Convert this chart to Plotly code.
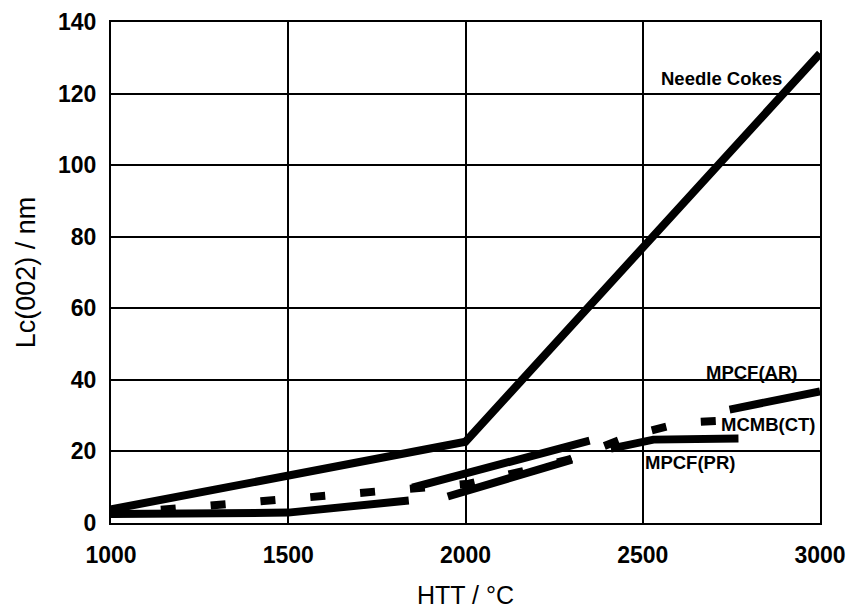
import plotly.graph_objects as go

# Data (HTT in deg C, Lc(002) in nm)
needle_x = [1000, 2000, 3000]
needle_y = [3.8, 22.7, 131.2]

mpcf_ar_x = [1850, 2350, None, 2745, 3000]
mpcf_ar_y = [9.9, 23.0, None, 31.7, 36.8]

mcmb_ct_x = [1000, 1160, 1300, 1440, 1580, 1740, 1870, 2010, 2150, 2290, 2470, 2610, 2710]
mcmb_ct_y = [2.5, 3.8, 5.0, 6.0, 7.2, 8.5, 10.0, 11.0, 14.2, 17.7, 24.5, 28.0, 28.5]

mpcf_pr_x = [1000, 1500, 1840, None, 1950, 2300, None, 2410, 2530, 2770]
mpcf_pr_y = [2.5, 2.9, 6.3, None, 7.4, 17.7, None, 20.8, 23.3, 23.6]

x_ticks = [1000, 1500, 2000, 2500, 3000]
y_ticks = [0, 20, 40, 60, 80, 100, 120, 140]

labels = ["Needle Cokes", "MPCF(AR)", "MCMB(CT)", "MPCF(PR)"]
label_x = [2723, 2808, 2856, 2633]
label_y = [124.3, 42.0, 27.5, 16.9]

FONT = "Liberation Sans, Arial, Helvetica, sans-serif"

fig = go.Figure()
fig.add_trace(go.Scatter(x=needle_x, y=needle_y, mode="lines", name="Needle Cokes",
                         line=dict(color="black", width=8)))
fig.add_trace(go.Scatter(x=mpcf_ar_x, y=mpcf_ar_y, mode="lines", name="MPCF(AR)",
                         line=dict(color="black", width=8), connectgaps=False))
fig.add_trace(go.Scatter(x=mcmb_ct_x, y=mcmb_ct_y, mode="lines", name="MCMB(CT)",
                         line=dict(color="black", width=8, dash="15px,35px")))
fig.add_trace(go.Scatter(x=mpcf_pr_x, y=mpcf_pr_y, mode="lines", name="MPCF(PR)",
                         line=dict(color="black", width=8), connectgaps=False))

for t, xv, yv in zip(labels, label_x, label_y):
    fig.add_annotation(x=xv, y=yv, text=t, showarrow=False, xanchor="center", yanchor="middle",
                       font=dict(family=FONT, size=18.5, color="black", weight="bold"))

axis_common = dict(showgrid=True, gridcolor="black", gridwidth=1.5,
                   showline=True, linecolor="black", linewidth=2, mirror=True,
                   zeroline=False, ticks="",
                   tickfont=dict(family=FONT, size=23, color="black", weight="bold"))

fig.update_xaxes(range=[1000, 3000], tickvals=x_ticks, ticktext=[str(v) for v in x_ticks],
                 title=dict(text="HTT / °C", font=dict(family=FONT, size=25, color="black"), standoff=26),
                 ticklabelstandoff=10, **axis_common)
fig.update_yaxes(range=[0, 140], tickvals=y_ticks, ticktext=[str(v) for v in y_ticks],
                 title=dict(text="Lc(002) / nm", font=dict(family=FONT, size=27, color="black"), standoff=15),
                 ticklabelstandoff=8, **axis_common)

fig.update_layout(width=851, height=609, showlegend=False,
                  plot_bgcolor="white", paper_bgcolor="white",
                  margin=dict(l=111, r=31, t=22, b=86, autoexpand=False))

fig.write_html("out.html")
